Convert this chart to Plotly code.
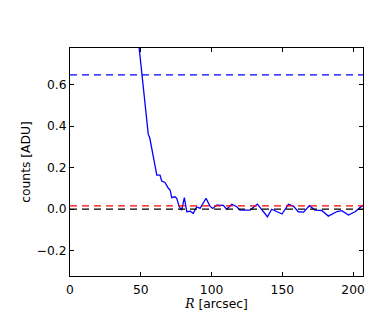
import plotly.graph_objects as go

# Radial profile
r_arcsec = [46.5, 48.8, 50.5, 52.0, 53.5, 55.3, 56.3, 57.7, 59.5, 61.3, 63.6, 64.8, 67.1, 69.5,
            70.7, 71.9, 74.2, 75.4, 77.2, 78.9, 80.8, 82.5, 84.8, 87.1, 89.5, 91.9,
            96.1, 97.7, 98.9, 100.8, 103.7, 108.3, 110.7, 114.3, 117.8, 120.1, 127.2,
            132.4, 134.8, 139.5, 142.5, 146.5, 149.8, 154.3, 157.8, 161.3, 165.0, 169.1,
            173.1, 177.9, 182.5, 188.7, 192.0, 196.7, 201.4, 206.1, 208.0]
counts = [0.93, 0.777, 0.67, 0.57, 0.47, 0.36, 0.345, 0.30, 0.23, 0.164, 0.164, 0.135, 0.128, 0.10,
          0.092, 0.055, 0.059, 0.052, 0.011, -0.005, 0.055, -0.013, -0.010, -0.021, 0.011, 0.003,
          0.052, 0.030, 0.014, 0.003, 0.019, 0.018, -0.001, 0.023, 0.011, -0.005, -0.005,
          0.024, 0.003, -0.037, -0.001, -0.012, -0.024, 0.023, 0.014, -0.013, -0.015, 0.016,
          -0.005, -0.007, -0.034, -0.012, -0.008, -0.029, -0.013, 0.014, 0.02]

# Reference levels
level_names = ["blue", "red", "black"]
level_values = [0.647, 0.015, 0.0]
level_colors = ["#0000ff", "#ff0000", "#000000"]

x_range = [0, 207]
y_range = [-0.323, 0.777]
x_ticks = [0, 50, 100, 150, 200]
y_ticks = [-0.2, 0.0, 0.2, 0.4, 0.6]
y_tick_labels = ["\u22120.2", "0.0", "0.2", "0.4", "0.6"]

fig = go.Figure()
fig.add_trace(go.Scatter(x=r_arcsec, y=counts, mode="lines",
                         line=dict(color="#0000ff", width=1.3), showlegend=False))
for name, val, col in zip(level_names, level_values, level_colors):
    fig.add_trace(go.Scatter(x=x_range, y=[val, val], mode="lines", name=name,
                             line=dict(color=col, width=1.3, dash="7px,5px"),
                             showlegend=False))

font = dict(family="DejaVu Sans", size=12.3, color="black")
fig.update_layout(
    width=390, height=325,
    margin=dict(l=70, r=27, t=48, b=49),
    paper_bgcolor="white", plot_bgcolor="white",
    font=font,
    xaxis=dict(range=x_range, tickvals=x_ticks, ticks="inside", ticklen=4,
               showgrid=False, zeroline=False, showline=True, linecolor="black",
               linewidth=1, mirror="ticks", tickcolor="black", automargin=False,
               ticklabelstandoff=2,
               title=dict(text="<span style=\"font-family:'DejaVu Serif'\"><i>R</i></span> [arcsec]",
                          standoff=2, font=font),
               tickfont=font),
    yaxis=dict(range=y_range, tickvals=y_ticks, ticktext=y_tick_labels, ticks="inside",
               ticklen=4, showgrid=False, zeroline=False, showline=True, automargin=False,
               linecolor="black", linewidth=1, mirror="ticks", tickcolor="black",
               ticklabelstandoff=0,
               title=dict(text="counts [ADU]", standoff=3, font=font),
               tickfont=font),
)
fig.write_html("out.html", config={"displayModeBar": False},
               post_script="document.body.style.margin='0';")
